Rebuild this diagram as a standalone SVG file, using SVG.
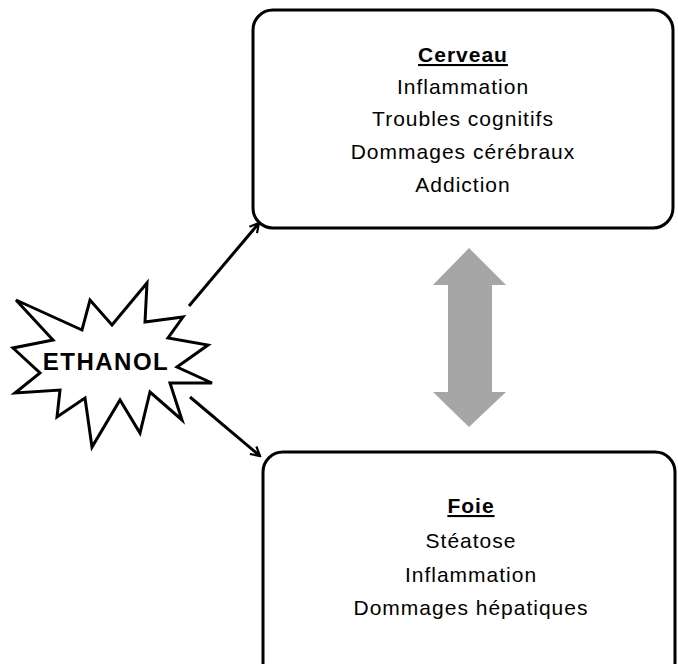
<svg xmlns="http://www.w3.org/2000/svg" width="678" height="664" viewBox="0 0 678 664">
<defs>
<style>
.box{fill:#fff;stroke:#000;stroke-width:3}
.t{font-family:"Liberation Sans",Arial,sans-serif;font-size:21px;fill:#000;text-anchor:middle;letter-spacing:1px}
.h{font-weight:bold;text-decoration:underline}
.conn{stroke:#000;stroke-width:3;fill:none;marker-end:url(#ah)}
</style>
<marker id="ah" viewBox="0 0 12 12" refX="10" refY="6" markerWidth="4" markerHeight="4" orient="auto" markerUnits="strokeWidth">
<path d="M1,1 L10,6 L1,11" fill="none" stroke="#000" stroke-width="2.2"/>
</marker>
</defs>
<rect width="678" height="664" fill="#fff"/>
<g id="cerveau">
<rect class="box" x="253" y="10" width="420" height="218" rx="20"/>
<text class="t h" x="463" y="62">Cerveau</text>
<text class="t" x="463" y="94">Inflammation</text>
<text class="t" x="463" y="126">Troubles cognitifs</text>
<text class="t" x="463" y="159">Dommages cérébraux</text>
<text class="t" x="463" y="192">Addiction</text>
</g>
<g id="foie">
<rect class="box" x="263" y="452" width="412" height="230" rx="20"/>
<text class="t h" x="471" y="513">Foie</text>
<text class="t" x="471" y="548">Stéatose</text>
<text class="t" x="471" y="582">Inflammation</text>
<text class="t" x="471" y="615">Dommages hépatiques</text>
</g>
<g id="ethanol">
<polygon points="16,300 82,330 90,300 112,325 147,283 145,322 183,317 168,338 208,345 177,367 212,383 170,383 182,420 150,392 140,433 120,400 92,447 85,398 57,417 60,390 15,393 40,373 13,348 53,340" fill="#fff" stroke="#000" stroke-width="3" stroke-linejoin="miter"/>
<text x="106" y="370" font-family="'Liberation Sans',Arial,sans-serif" font-size="24" font-weight="bold" text-anchor="middle" letter-spacing="1.5">ETHANOL</text>
</g>
<g id="connectors">
<line class="conn" x1="189" y1="306" x2="259" y2="223"/>
<line class="conn" x1="190" y1="397" x2="260" y2="456"/>
<polygon points="469,248 506,285 492,285 492,392 506,392 469,427 433,392 448,392 448,285 433,285" fill="#a6a6a6"/>
</g>
</svg>
